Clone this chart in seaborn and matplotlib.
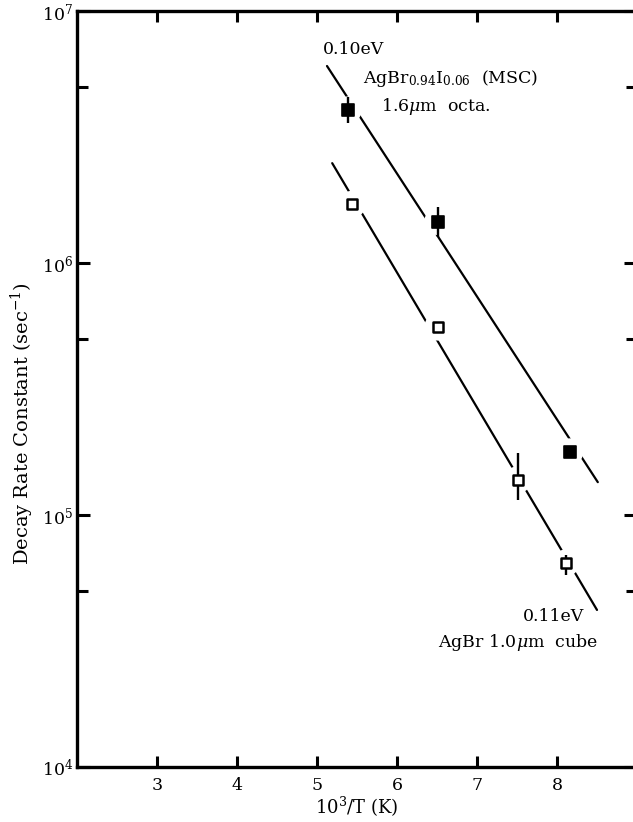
import numpy as np
import pandas as pd
import matplotlib
matplotlib.use("Agg")
import matplotlib.pyplot as plt
import matplotlib.ticker as mticker
import seaborn as sns

# ---- data ----
filled_x = [5.39, 6.51, 8.16]
filled_y = [4.05e6, 1.46e6, 1.78e5]
filled_err_lo = [3.6e6, 1.27e6, 1.78e5]
filled_err_hi = [4.56e6, 1.67e6, 1.78e5]

open_x = [5.44, 6.51, 7.51, 8.11]
open_y = [1.71e6, 5.57e5, 1.38e5, 6.45e4]
open_err_lo = [1.71e6, 5.57e5, 1.15e5, 5.78e4]
open_err_hi = [1.71e6, 5.57e5, 1.76e5, 6.93e4]

fit_upper_x = [5.125, 8.51]
fit_upper_y = [6.05e6, 1.35e5]
fit_lower_x = [5.19, 8.50]
fit_lower_y = [2.49e6, 4.2e4]

x_ticks = [3, 4, 5, 6, 7, 8]
y_major = [1e4, 1e5, 1e6, 1e7]
y_minor = [5e4, 5e5, 5e6]

sns.set_theme(style="ticks")
plt.rcParams["font.family"] = ["DejaVu Serif"]
plt.rcParams["mathtext.fontset"] = "dejavuserif"
plt.rcParams["text.color"] = "black"
plt.rcParams["axes.labelcolor"] = "black"

fig = plt.figure(figsize=(6.33, 8.22), dpi=100)
ax = fig.add_axes([77 / 633, 1 - 767 / 822, (637 - 77) / 633, (767 - 11) / 822])

df_fu = pd.DataFrame({"x": fit_upper_x, "y": fit_upper_y})
df_fl = pd.DataFrame({"x": fit_lower_x, "y": fit_lower_y})
sns.lineplot(data=df_fu, x="x", y="y", ax=ax, color="black", lw=1.6, zorder=1)
sns.lineplot(data=df_fl, x="x", y="y", ax=ax, color="black", lw=1.6, zorder=1)

df_f = pd.DataFrame({"x": filled_x, "y": filled_y})
df_o = pd.DataFrame({"x": open_x, "y": open_y})

# white halos that break the fitted lines around each point
sns.scatterplot(data=pd.concat([df_f, df_o]), x="x", y="y", ax=ax, marker="o",
                s=380, color="white", edgecolor="none", linewidth=0, zorder=2)

# error bars
ax.vlines(filled_x, filled_err_lo, filled_err_hi, color="black", lw=1.7, zorder=3)
ax.vlines(open_x, open_err_lo, open_err_hi, color="black", lw=1.7, zorder=3)

sns.scatterplot(data=df_f, x="x", y="y", ax=ax, marker="s", s=70,
                color="black", edgecolor="black", linewidth=1.2, zorder=4)
sns.scatterplot(data=df_o, x="x", y="y", ax=ax, marker="s", s=60,
                facecolor="white", edgecolor="black", linewidth=1.8, zorder=4)

ax.set_yscale("log")
ax.set_xlim(2, 9)
ax.set_ylim(1e4, 1e7)
ax.xaxis.set_major_locator(mticker.FixedLocator(x_ticks))
ax.xaxis.set_minor_locator(mticker.NullLocator())
ax.yaxis.set_major_locator(mticker.FixedLocator(y_major))
ax.yaxis.set_minor_locator(mticker.FixedLocator(y_minor))
ax.yaxis.set_minor_formatter(mticker.NullFormatter())

ax.tick_params(axis="both", which="both", direction="in", top=True, right=True,
               width=2.2, labelsize=12.5, colors="black")
ax.tick_params(axis="x", which="major", length=8, pad=7)
ax.tick_params(axis="y", which="major", length=9.5, pad=3)
ax.tick_params(axis="y", which="minor", length=8)
for sp in ax.spines.values():
    sp.set_linewidth(2.4)
    sp.set_color("black")

ax.set_xlabel(r"10$^3$/T (K)", fontsize=13, labelpad=1)
ax.set_ylabel(r"Decay Rate Constant (sec$^{-1}$)", fontsize=14)
ax.yaxis.set_label_coords(-0.074, 0.455)

fs = 12.5
ax.text(5.075, 7.06e6, "0.10eV", fontsize=fs, ha="left", va="center")
ax.text(5.575, 5.42e6, r"AgBr$_{\mathrm{0.94}}$I$_{\mathrm{0.06}}$  (MSC)", fontsize=fs,
        ha="left", va="center")
ax.text(5.80, 4.16e6, r"1.6$\mu$m  octa.", fontsize=fs, ha="left", va="center")
ax.text(7.575, 3.97e4, "0.11eV", fontsize=fs, ha="left", va="center")
ax.text(8.51, 3.13e4, r"AgBr 1.0$\mu$m  cube", fontsize=fs, ha="right", va="center")

fig.savefig("out.png", dpi=100)
